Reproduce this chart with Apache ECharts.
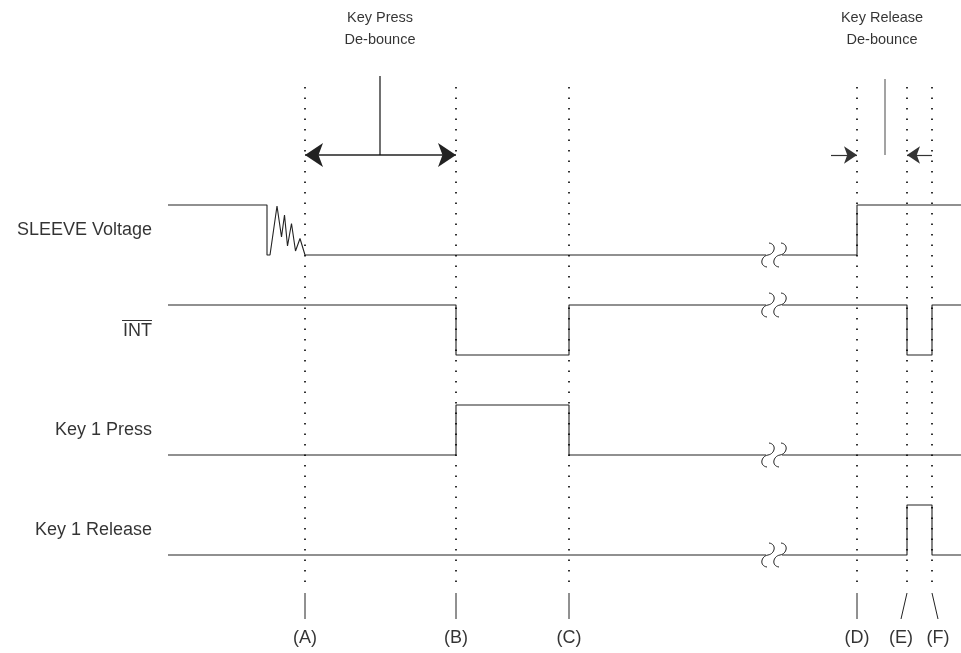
<!DOCTYPE html>
<html>
<head>
<meta charset="utf-8">
<script src="https://cdn.jsdelivr.net/npm/echarts@6/dist/echarts.min.js"></script>
<style>
  html, body { margin: 0; background: #fff; }
  #chart { width: 961px; height: 653px; }
</style>
</head>
<body>
<div id="chart"></div>
<script>
// time marks (A)..(F) on the time axis
const markNames = ['(A)', '(B)', '(C)', '(D)', '(E)', '(F)'];
const markTimes = [305, 456, 569, 857, 907, 932];
const markLabelTimes = [305, 456, 569, 857, 901, 938];
const tickSlant = [0, 0, 0, 0, -6, 6];

// signals, one row each, level 0/1 and the times where they toggle
const signalNames = ['SLEEVE Voltage', 'INT', 'Key 1 Press', 'Key 1 Release'];
const signalStartLevel = [1, 1, 0, 0];
const signalEdges = [[267, 857], [456, 569, 907, 932], [456, 569], [907, 932]];
const tStart = 168, tEnd = 961;

// contact bounce on SLEEVE after the first drop, until (A)
const bounceTimes = [270, 277, 281.5, 284.5, 287.5, 291.5, 295.5, 300, 305];
const bounceLevels = [0, 0.98, 0.36, 0.8, 0.18, 0.63, 0.08, 0.33, 0];

// time break (squiggles)
const breakFrom = 766, breakTo = 782;

// de-bounce annotations
const pressArrow = [305, 456];
const pressMid = 380;
const releaseTails = [831, 932];
const releaseHeads = [857, 907];
const releaseMid = 885;

const rowBase = [4, 3, 2, 1];
const amp = 0.5;
const font = 'Liberation Sans, Arial, sans-serif';
const ink = '#000';

function levelAt(i, t) {
  let lvl = signalStartLevel[i];
  signalEdges[i].forEach(e => { if (e <= t) lvl = 1 - lvl; });
  return lvl;
}

function wave(i) {
  const pts = [];
  const add = (t, l) => pts.push([t, rowBase[i] + l * amp]);
  let lvl = signalStartLevel[i];
  let t = tStart;
  add(t, lvl);
  const flat = (to) => {
    if (t < breakFrom && to > breakTo) {
      add(breakFrom, lvl);
      pts.push([(breakFrom + breakTo) / 2, '-']);
      add(breakTo, lvl);
    }
    add(to, lvl);
    t = to;
  };
  signalEdges[i].forEach((e, k) => {
    flat(e);
    lvl = 1 - lvl;
    add(e, lvl);
    if (i === 0 && k === 0) {
      bounceTimes.forEach((bt, j) => add(bt, bounceLevels[j]));
      t = bounceTimes[bounceTimes.length - 1];
    }
  });
  flat(tEnd);
  return pts;
}

const dotTop = 5.68, dotBot = 0.68, tickTop = 0.62, tickBot = 0.36, markLabelY = 0.17;

const dotted = [];
markTimes.forEach(t => { dotted.push([t, dotTop], [t, dotBot], [t, '-']); });
const ticks = [];
markTimes.forEach((t, k) => { ticks.push([t, tickTop], [t + tickSlant[k], tickBot], [t, '-']); });

const chart = echarts.init(document.getElementById('chart'));

const series = [];
signalNames.forEach((n, i) => {
  series.push({
    type: 'line', data: wave(i), showSymbol: false, symbol: 'none',
    lineStyle: { color: '#222', width: 1.1 }, silent: true
  });
});

series.push({
  type: 'line', data: dotted, symbol: 'none',
  lineStyle: { color: '#000', width: 1.6, type: [1.6, 8.9] }, silent: true
});
series.push({
  type: 'line', data: ticks, symbol: 'none',
  lineStyle: { color: '#222', width: 1 }, silent: true
});

// break squiggles, sitting on each signal's level at the break
const breakMid = (breakFrom + breakTo) / 2;
series.push({
  type: 'custom', silent: true,
  data: rowBase.map((b, i) => [breakMid, b + levelAt(i, breakMid) * amp]),
  renderItem: function (params, api) {
    const c = api.coord([api.value(0), api.value(1)]);
    const kids = [];
    [-6, 6].forEach(dx => {
      const x = c[0] + dx, y = c[1];
      kids.push({
        type: 'bezierCurve',
        shape: { x1: x + 1, y1: y - 12, cpx1: x + 9, cpy1: y - 11, cpx2: x + 7, cpy2: y - 1, x2: x, y2: y },
        style: { stroke: '#222', lineWidth: 1, fill: null }
      });
      kids.push({
        type: 'bezierCurve',
        shape: { x1: x, y1: y, cpx1: x - 7, cpy1: y + 1, cpx2: x - 9, cpy2: y + 11, x2: x - 1, y2: y + 12 },
        style: { stroke: '#222', lineWidth: 1, fill: null }
      });
    });
    return { type: 'group', children: kids };
  }
});

// de-bounce arrows
series.push({
  type: 'lines', coordinateSystem: 'cartesian2d', silent: true,
  symbol: ['arrow', 'arrow'], symbolSize: 18,
  itemStyle: { color: '#000' },
  lineStyle: { color: '#222', width: 1.5, opacity: 1 },
  data: [{ coords: [[pressArrow[0], 5], [pressArrow[1], 5]] }]
});
series.push({
  type: 'lines', coordinateSystem: 'cartesian2d', silent: true,
  symbol: ['none', 'arrow'], symbolSize: 13,
  itemStyle: { color: '#000' },
  lineStyle: { color: '#333', width: 1.2, opacity: 1 },
  data: releaseTails.map((t, k) => ({ coords: [[t, 5], [releaseHeads[k], 5]] }))
});
series.push({
  type: 'line', symbol: 'none', silent: true,
  lineStyle: { color: '#111', width: 1.2 },
  data: [[pressMid, 5.79], [pressMid, 5]]
});
series.push({
  type: 'line', symbol: 'none', silent: true,
  lineStyle: { color: '#666', width: 1.2 },
  data: [[releaseMid, 5.76], [releaseMid, 5]]
});

// texts
const txt = { color: ink, fontFamily: font, fontSize: 18 };
series.push({
  type: 'scatter', symbolSize: 0, silent: true,
  data: signalNames.map((n, i) => ({ value: [152, rowBase[i] + 0.25], name: n })),
  label: {
    show: true, position: 'left', distance: 0, ...txt,
    formatter: p => p.name === 'INT' ? '{o| }\n{t|INT}' : p.name,
    rich: {
      o: { width: 30, height: 1, lineHeight: 3, backgroundColor: ink },
      t: { ...txt, lineHeight: 19 }
    }
  }
});
series.push({
  type: 'scatter', symbolSize: 0, silent: true,
  data: markNames.map((n, k) => ({ value: [markLabelTimes[k], markLabelY], name: n })),
  label: { show: true, position: 'inside', ...txt, formatter: p => p.name }
});
series.push({
  type: 'scatter', symbolSize: 0, silent: true,
  data: [
    { value: [pressMid, 6.26], name: 'Key Press\nDe-bounce' },
    { value: [882, 6.26], name: 'Key Release\nDe-bounce' }
  ],
  label: { show: true, position: 'inside', ...txt, fontSize: 14.5, lineHeight: 22, formatter: p => p.name }
});

chart.setOption({
  animation: false,
  backgroundColor: '#fff',
  grid: { left: 0, right: 0, top: 0, bottom: 0 },
  xAxis: { type: 'value', min: 0, max: 961, show: false },
  yAxis: { type: 'value', min: 0.02, max: 6.55, show: false },
  series: series
});
</script>
</body>
</html>
